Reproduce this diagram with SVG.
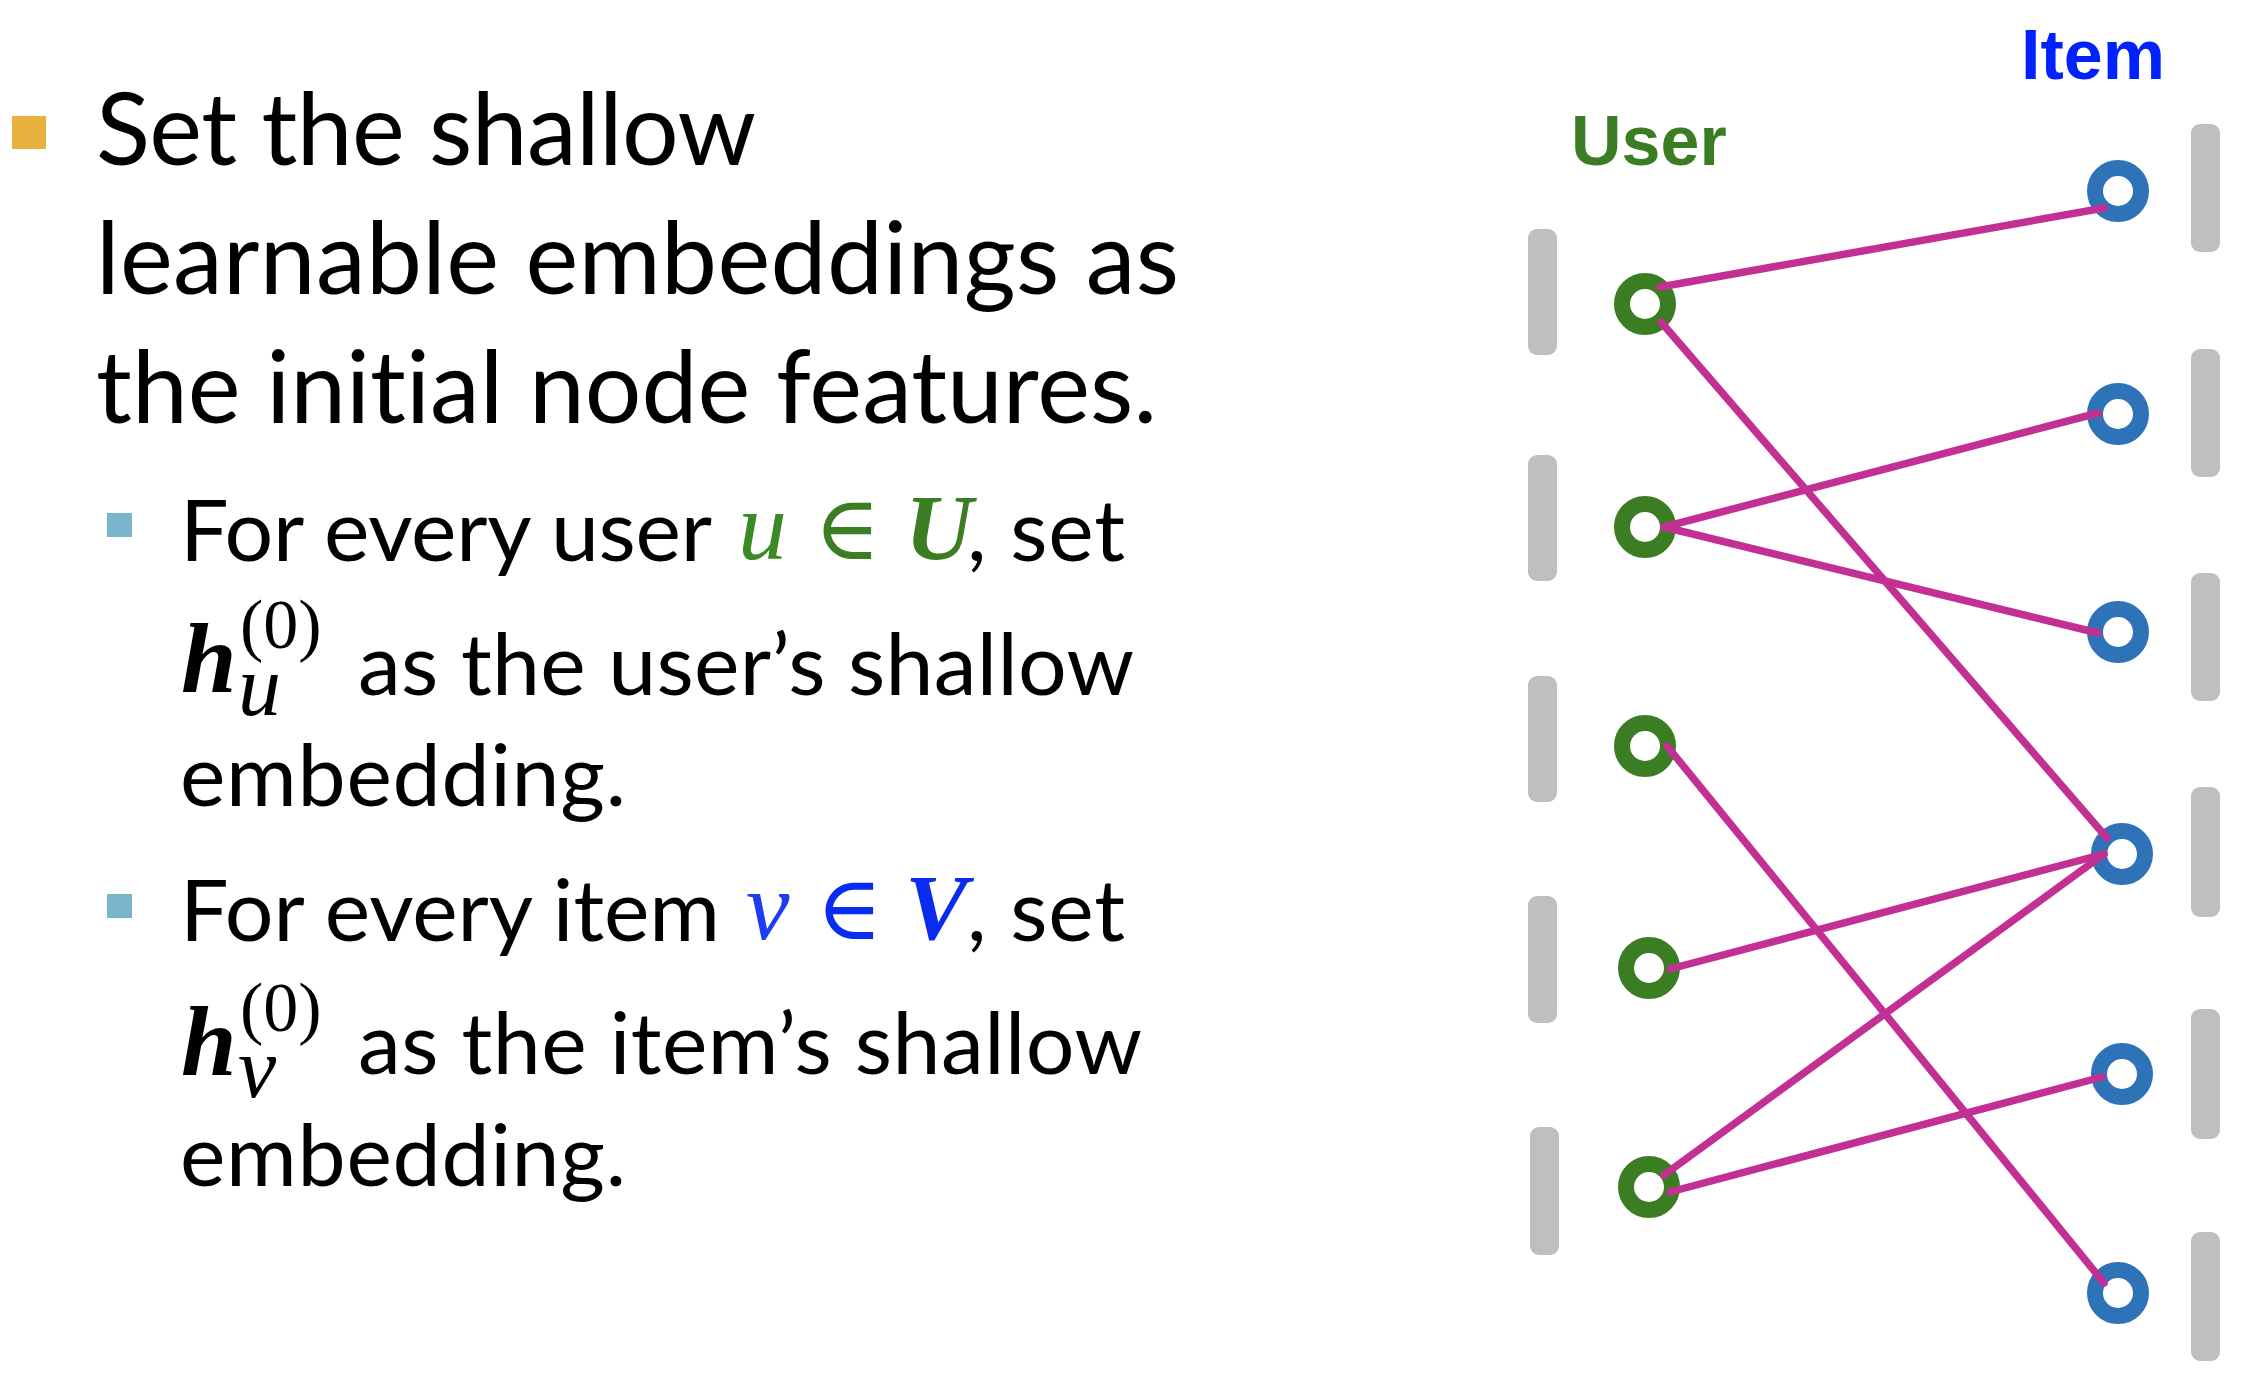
<svg xmlns="http://www.w3.org/2000/svg" width="2246" height="1374" viewBox="0 0 2246 1374">
  <style>
    .txt { font-family: Lato, "Open Sans", "Liberation Sans", sans-serif; fill: #000; font-variant-ligatures: none; }
    .main { font-size: 100px; }
    .sub { font-size: 86px; }
    .math { font-family: "Liberation Serif", "DejaVu Serif", serif; }
    .lbl { font-family: "Liberation Sans", Arial, sans-serif; font-weight: bold; font-size: 70px; }
    .bar { fill: #BFBFBF; }
    .user { fill: none; stroke: #3B7D23; stroke-width: 16; }
    .item { fill: none; stroke: #2E72B8; stroke-width: 16; }
    .edge { stroke: #C33093; stroke-width: 7.5; stroke-linecap: round; fill: none; }
  </style>

  <!-- bullet text -->
  <g id="text-block">
    <rect x="12" y="116" width="34" height="33" fill="#E8B03F"/>
    <text class="txt main" x="96" y="165" textLength="660" lengthAdjust="spacing">Set the shallow</text>
    <text class="txt main" x="96" y="294" textLength="1083" lengthAdjust="spacing">learnable embeddings as</text>
    <text class="txt main" x="96" y="423" textLength="1061" lengthAdjust="spacing">the initial node features.</text>

    <rect x="107" y="513" width="25" height="24" fill="#78B4CC"/>
    <text class="txt sub" x="180" y="561" textLength="532" lengthAdjust="spacing">For every user</text>
    <text class="math" x="738" y="559" font-size="98" font-style="italic" fill="#3B8A25">u</text>
    <text class="math" x="814" y="559" font-size="90" fill="#3B7D23">∈</text>
    <text class="math" x="905" y="559" font-size="94" font-style="italic" font-weight="bold" fill="#3B7D23">U</text>
    <text class="txt sub" x="967" y="561" textLength="158" lengthAdjust="spacing">, set</text>

    <text class="math" x="181" y="692" font-size="100" font-style="italic" font-weight="bold">h</text>
    <text class="math" x="238" y="715" font-size="86" font-style="italic">u</text>
    <text class="math" x="240" y="648" font-size="70">(0)</text>
    <text class="txt sub" x="358" y="695" textLength="776" lengthAdjust="spacing">as the user’s shallow</text>
    <text class="txt sub" x="180" y="806" textLength="446" lengthAdjust="spacing">embedding.</text>

    <rect x="107" y="894" width="25" height="24" fill="#78B4CC"/>
    <text class="txt sub" x="180" y="941" textLength="540" lengthAdjust="spacing">For every item</text>
    <text class="math" x="746" y="939" font-size="98" font-style="italic" fill="#1F3CF5">v</text>
    <text class="math" x="816" y="939" font-size="90" fill="#0A2BF0">∈</text>
    <text class="math" x="905" y="939" font-size="94" font-style="italic" font-weight="bold" fill="#0A2BF0">V</text>
    <text class="txt sub" x="967" y="941" textLength="158" lengthAdjust="spacing">, set</text>

    <text class="math" x="181" y="1075" font-size="100" font-style="italic" font-weight="bold">h</text>
    <text class="math" x="238" y="1097" font-size="86" font-style="italic">v</text>
    <text class="math" x="240" y="1031" font-size="70">(0)</text>
    <text class="txt sub" x="358" y="1074" textLength="784" lengthAdjust="spacing">as the item’s shallow</text>
    <text class="txt sub" x="180" y="1186" textLength="446" lengthAdjust="spacing">embedding.</text>
  </g>

  <!-- column headings -->
  <text class="lbl" x="1571" y="165" fill="#3B7D23">User</text>
  <text class="lbl" x="2021" y="79" fill="#0022FF">Item</text>

  <!-- user nodes: embedding bar + ring -->
  <g id="user1"><rect class="bar" x="1528" y="229" width="29" height="126" rx="9"/><circle class="user" cx="1645" cy="304" r="23"/></g>
  <g id="user2"><rect class="bar" x="1528" y="455" width="29" height="126" rx="9"/><circle class="user" cx="1645" cy="527" r="23"/></g>
  <g id="user3"><rect class="bar" x="1528" y="676" width="29" height="126" rx="9"/><circle class="user" cx="1645" cy="746" r="23"/></g>
  <g id="user4"><rect class="bar" x="1528" y="896" width="29" height="127" rx="9"/><circle class="user" cx="1649" cy="968" r="23"/></g>
  <g id="user5"><rect class="bar" x="1530" y="1127" width="29" height="128" rx="9"/><circle class="user" cx="1649" cy="1187" r="23"/></g>

  <!-- item nodes: ring + embedding bar -->
  <g id="item1"><rect class="bar" x="2191" y="124" width="29" height="128" rx="9"/><circle class="item" cx="2118" cy="191" r="23"/></g>
  <g id="item2"><rect class="bar" x="2191" y="349" width="29" height="128" rx="9"/><circle class="item" cx="2118" cy="414" r="23"/></g>
  <g id="item3"><rect class="bar" x="2191" y="573" width="29" height="128" rx="9"/><circle class="item" cx="2118" cy="632" r="23"/></g>
  <g id="item4"><rect class="bar" x="2191" y="787" width="29" height="130" rx="9"/><circle class="item" cx="2122" cy="854" r="23"/></g>
  <g id="item5"><rect class="bar" x="2191" y="1009" width="29" height="130" rx="9"/><circle class="item" cx="2122" cy="1074" r="23"/></g>
  <g id="item6"><rect class="bar" x="2191" y="1232" width="29" height="129" rx="9"/><circle class="item" cx="2118" cy="1293" r="23"/></g>

  <!-- user-item interactions -->
  <g id="edges">
    <line class="edge" x1="1660" y1="287" x2="2104" y2="208"/>
    <line class="edge" x1="1661" y1="322" x2="2107" y2="838"/>
    <line class="edge" x1="1664" y1="527" x2="2098" y2="413"/>
    <line class="edge" x1="1664" y1="527" x2="2098" y2="633"/>
    <line class="edge" x1="1667" y1="746" x2="2104" y2="1283"/>
    <line class="edge" x1="1670" y1="969" x2="2104" y2="854"/>
    <line class="edge" x1="1664" y1="1175" x2="2104" y2="854"/>
    <line class="edge" x1="1670" y1="1192" x2="2102" y2="1077"/>
  </g>
</svg>
